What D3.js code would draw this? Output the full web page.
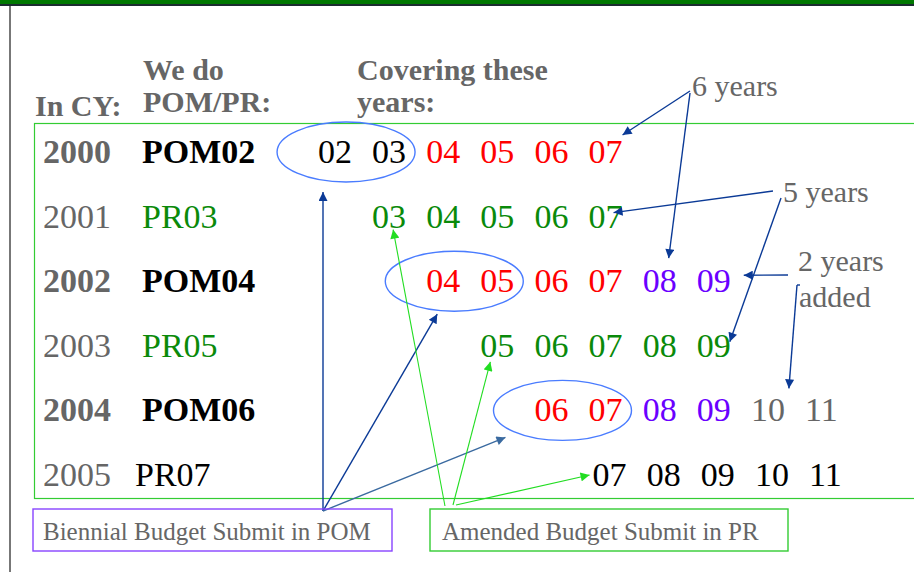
<!DOCTYPE html>
<html>
<head>
<meta charset="utf-8">
<script src="https://cdn.jsdelivr.net/npm/d3@7"></script>
<style>
  body { margin: 0; background: #fff; }
  svg text { font-family: "Liberation Serif", "Times New Roman", serif; }
</style>
</head>
<body>
<div id="chart"></div>
<script>
// rows of the table
var calendarYears = ["2000", "2001", "2002", "2003", "2004", "2005"];
var submits = ["POM02", "PR03", "POM04", "PR05", "POM06", "PR07"];
var submitKind = ["pom", "pr", "pom", "pr", "pom", "plain"];

// fiscal years covered by each submit (two digit years)
var covered = [
  [2, 3, 4, 5, 6, 7],
  [3, 4, 5, 6, 7],
  [4, 5, 6, 7, 8, 9],
  [5, 6, 7, 8, 9],
  [6, 7, 8, 9, 10, 11],
  [7, 8, 9, 10, 11]
];
// what each covered year is in that submit
var coveredKind = [
  ["budget", "budget", "program", "program", "program", "program"],
  ["pr", "pr", "pr", "pr", "pr"],
  ["program", "program", "program", "program", "added", "added"],
  ["pr", "pr", "pr", "pr", "pr"],
  ["program", "program", "added", "added", "later", "later"],
  ["plain", "plain", "plain", "plain", "plain"]
];

// the two budget years circled in each POM
var circled = [
  {row: "2000", from: 2, to: 3},
  {row: "2002", from: 4, to: 5},
  {row: "2004", from: 6, to: 7}
];

var legendLabels = ["Biennial Budget Submit in POM", "Amended Budget Submit in PR"];

var colors = {
  budget: "#000", program: "#ff0000", added: "#6a00ff", later: "#666",
  pr: "#0a8a0a", plain: "#000", pom: "#000"
};
var GRAY = "#666";
var NAVY = "#0b3a96";
var LIGHT_GREEN = "#22dd22";

var width = 914, height = 572;

var svg = d3.select("#chart").append("svg")
  .attr("width", width)
  .attr("height", height);

var y = d3.scalePoint().domain(calendarYears).range([163, 486]);
var x = d3.scaleLinear().domain([2, 11]).range([318, 805]);

// slide frame
svg.append("rect").attr("x", 0).attr("y", 0).attr("width", width).attr("height", 4).attr("fill", "#007800");
svg.append("rect").attr("x", 0).attr("y", 4).attr("width", width).attr("height", 2).attr("fill", "#1c2c30");
svg.append("line").attr("x1", 10).attr("x2", 10).attr("y1", 6).attr("y2", height)
  .attr("stroke", "#777").attr("stroke-width", 2);

// table box
svg.append("rect")
  .attr("x", 34.5).attr("y", 123.5)
  .attr("width", 900).attr("height", 375)
  .attr("fill", "none").attr("stroke", "#33cc33").attr("stroke-width", 1.2);

// headers
var header = svg.append("g")
  .attr("fill", GRAY).attr("font-weight", "bold").attr("font-size", 30);
header.append("text").attr("x", 35).attr("y", 116).text("In CY:");
header.append("text").attr("x", 143).attr("y", 80).text("We do");
header.append("text").attr("x", 143).attr("y", 112).text("POM/PR:");
header.append("text").attr("x", 357).attr("y", 80).text("Covering these");
header.append("text").attr("x", 357).attr("y", 112).text("years:");

// markers
var defs = svg.append("defs");
function marker(id, color) {
  defs.append("marker")
    .attr("id", id)
    .attr("viewBox", "0 0 10 10")
    .attr("refX", 10).attr("refY", 5)
    .attr("markerUnits", "userSpaceOnUse")
    .attr("markerWidth", 11).attr("markerHeight", 9)
    .attr("orient", "auto")
    .append("path").attr("d", "M0,0L10,5L0,10Z").attr("fill", color);
}
marker("navy", NAVY);
marker("steel", "#3a6aa0");
marker("green", LIGHT_GREEN);

// ellipses round the budget years
svg.selectAll(".budget").data(circled).enter().append("ellipse")
  .attr("class", "budget")
  .attr("cx", function(d) { return (x(d.from) + x(d.to) + 34) / 2 - 16; })
  .attr("cy", function(d) { return y(d.row) - 11; })
  .attr("rx", 69).attr("ry", 30)
  .attr("fill", "none").attr("stroke", "#4a7cff").attr("stroke-width", 1.4);

// rows
var rows = svg.selectAll(".row").data(calendarYears).enter().append("g")
  .attr("class", "row")
  .attr("transform", function(d) { return "translate(0," + y(d) + ")"; })
  .attr("font-size", 34);

rows.append("text")
  .attr("x", 43)
  .attr("fill", GRAY)
  .attr("font-weight", function(d, i) { return submitKind[i] == "pom" ? "bold" : "normal"; })
  .text(function(d) { return d; });

rows.append("text")
  .attr("x", function(d, i) { return i == 5 ? 135 : 142; })
  .attr("fill", function(d, i) { return colors[submitKind[i]]; })
  .attr("font-weight", function(d, i) { return submitKind[i] == "pom" ? "bold" : "normal"; })
  .text(function(d, i) { return submits[i]; });

rows.selectAll(".yr")
  .data(function(d, i) {
    return covered[i].map(function(v, j) { return {v: v, kind: coveredKind[i][j], row: i}; });
  })
  .enter().append("text")
  .attr("class", "yr")
  .attr("x", function(d) { return x(d.v) + (d.row == 5 ? 4 : 0); })
  .attr("fill", function(d) { return colors[d.kind]; })
  .text(function(d) { return d3.format("02d")(d.v); });

// annotations: label text and arrows aimed at table cells
var notes = svg.append("g").attr("fill", GRAY).attr("font-size", 30);
notes.append("text").attr("x", 692).attr("y", 96).text("6 years");
notes.append("text").attr("x", 783).attr("y", 202).text("5 years");
notes.append("text").attr("x", 798).attr("y", 271).text("2 years");
notes.append("text").attr("x", 799).attr("y", 307).text("added");

function cell(row, col, dx, dy) {
  return [x(col) + dx, y(row) + dy];
}

var arrows = [
  {from: [690, 91], to: cell("2000", 7, 34, -28), m: "navy"},
  {from: [690, 93], to: cell("2002", 8, 26, -34), m: "navy"},
  {from: [773, 191], to: cell("2001", 7, 25, -15), m: "navy"},
  {from: [781, 198], to: cell("2003", 9, 33, -15), m: "navy"},
  {from: [788, 275], to: cell("2002", 9, 47, -17), m: "navy"},
  {from: [797, 285], to: cell("2004", 10, 38, -33), m: "navy"},
  {from: [323, 511], to: cell("2000", 2, 5, 29), m: "navy"},
  {from: [323, 511], to: cell("2002", 4, 11, 22), m: "navy"},
  {from: [323, 511], to: cell("2004", 6, -29, 16), m: "steel"},
  {from: [445, 506], to: cell("2001", 3, 21, 2), m: "green"},
  {from: [453, 505], to: cell("2003", 5, 10, 5), m: "green"},
  {from: [456, 505], to: cell("2005", 7, 1, -11), m: "green"}
];
var strokeOf = {navy: NAVY, steel: "#3a6aa0", green: LIGHT_GREEN};

svg.selectAll(".arrow").data(arrows).enter().append("line")
  .attr("class", "arrow")
  .attr("x1", function(d) { return d.from[0]; })
  .attr("y1", function(d) { return d.from[1]; })
  .attr("x2", function(d) { return d.to[0]; })
  .attr("y2", function(d) { return d.to[1]; })
  .attr("stroke", function(d) { return strokeOf[d.m]; })
  .attr("stroke-width", function(d) { return d.m == "green" ? 1.1 : 1.4; })
  .attr("marker-end", function(d) { return "url(#" + d.m + ")"; });

// small bracket tick next to "added"
svg.append("line").attr("x1", 797).attr("x2", 800).attr("y1", 285).attr("y2", 285)
  .attr("stroke", NAVY).attr("stroke-width", 1.4);

// legend boxes
var legend = svg.selectAll(".legend").data(legendLabels).enter().append("g")
  .attr("class", "legend")
  .attr("transform", function(d, i) { return "translate(" + (i == 0 ? 33 : 430) + ",509)"; });

legend.append("rect")
  .attr("width", function(d, i) { return i == 0 ? 359 : 358; })
  .attr("height", 42)
  .attr("fill", "none")
  .attr("stroke", function(d, i) { return i == 0 ? "#8844ff" : "#33cc33"; })
  .attr("stroke-width", 1.4);

legend.append("text")
  .attr("x", function(d, i) { return i == 0 ? 10 : 12; })
  .attr("y", 31)
  .attr("font-size", 25)
  .attr("fill", GRAY)
  .text(function(d) { return d; });
</script>
</body>
</html>
